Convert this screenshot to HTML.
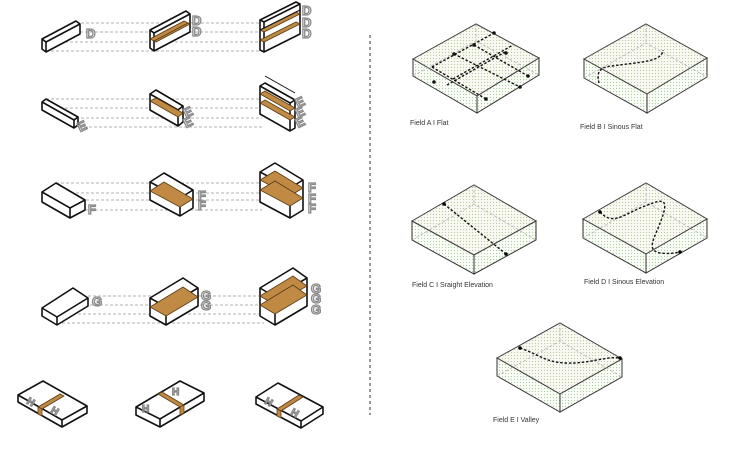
<!DOCTYPE html>
<html><head><meta charset="utf-8"><style>
html,body{margin:0;padding:0;background:#fff;}
svg{display:block}
.b{fill:#fff;stroke:#111;stroke-width:1.6;stroke-linejoin:round}
.e{stroke:#111;stroke-width:1.6;fill:none}
.h{stroke:#999;stroke-width:0.7;stroke-dasharray:3 2;fill:none}
.sh{fill:#c08a45;stroke:#5a3c15;stroke-width:0.8}
.fl{fill:url(#dots);stroke:#333;stroke-width:1}
.fd{stroke:#aaa;stroke-width:0.7;stroke-dasharray:3 2;fill:none}
.p{stroke:#111;stroke-width:1.4;stroke-dasharray:2.5 1.8;fill:none}
.lt{fill:none;stroke:#8a8a8a;stroke-width:1.3;font-family:"Liberation Sans",sans-serif;font-weight:bold;font-size:13px}
.lab{font-family:"Liberation Sans",sans-serif;font-size:7px;fill:#333}
.pk{fill:#f6d6d6;opacity:0.12}
</style></head><body>
<svg width="730" height="452" viewBox="0 0 730 452" xmlns="http://www.w3.org/2000/svg">
<defs>
<pattern id="dots" width="3" height="3" patternUnits="userSpaceOnUse">
<rect width="3" height="3" fill="#fbfdf8"/><circle cx="1.5" cy="1.5" r="0.6" fill="#a9cf9b"/>
</pattern>
</defs>

<line x1="370" y1="35" x2="370" y2="415" stroke="#333" stroke-width="1" stroke-dasharray="3 3"/>

<!-- ROW 1 -->
<g>
<line class="h" x1="76" y1="23" x2="296" y2="23"/><line class="h" x1="60" y1="32" x2="262" y2="32"/>
<line class="h" x1="50" y1="42" x2="262" y2="42"/><line class="h" x1="46" y1="51" x2="264" y2="51"/>
<polygon class="b" points="42,39 76,21 80,24 80,34 46,52 42,49"/><polyline class="e" points="42,39 46,42 80,24"/><line class="e" x1="46" y1="42" x2="46" y2="52"/>
<polygon class="b" points="150,30 186,11 190,14 190,32 154,51 150,48"/><polyline class="e" points="150,30 154,33 190,14"/><line class="e" x1="154" y1="33" x2="154" y2="51"/>
<polygon class="sh" points="154,41 188,23 190,24 156,42"/><polygon class="sh" points="150,39 184,21 188,23 154,41"/>
<polygon class="b" points="260,20 296,2 300,4 300,34 264,52 260,50"/><polyline class="e" points="260,20 264,22 300,4"/><line class="e" x1="264" y1="22" x2="264" y2="52"/>
<polygon class="sh" points="260,30 296,12 300,14 264,32"/><polygon class="sh" points="260,40 296,22 300,24 264,42"/>
<line class="e" x1="260" y1="30" x2="300" y2="10" style="stroke-width:1"/>
<text class="lt" x="86" y="38">D</text>
<text class="lt" x="192" y="25">D</text><text class="lt" x="192" y="36">D</text>
<text class="lt" x="302" y="15">D</text><text class="lt" x="302" y="27">D</text><text class="lt" x="302" y="38">D</text>
</g>

<!-- ROW 2 -->
<g>
<line class="h" x1="46" y1="99" x2="262" y2="99"/><line class="h" x1="60" y1="108" x2="262" y2="108"/>
<line class="h" x1="66" y1="118" x2="262" y2="118"/><line class="h" x1="74" y1="127" x2="264" y2="127"/>
<polygon class="b" points="42,102 46,99 78,117 78,125 74,128 42,110"/><polyline class="e" points="42,102 74,120 78,117"/><line class="e" x1="74" y1="120" x2="74" y2="128"/>
<polygon class="b" points="150,94 156,90 183,106 183,122 178,126 150,110"/><polyline class="e" points="150,94 178,110 183,106"/><line class="e" x1="178" y1="110" x2="178" y2="126"/>
<polygon class="sh" points="150,101 156,98 183,113 178,117"/>
<polygon class="b" points="260,86 265,83 295,100 295,128 290,131 260,114"/><polyline class="e" points="260,86 290,103 295,100"/><line class="e" x1="290" y1="103" x2="290" y2="131"/>
<line class="e" x1="265" y1="76" x2="295" y2="93" style="stroke-width:1"/>
<polygon class="sh" points="260,94 265,91 295,108 290,111"/><polygon class="sh" points="260,103 265,100 295,117 290,120"/>
<text class="lt" x="80" y="132" transform="rotate(-25 80 132)">E</text>
<text class="lt" x="186" y="118" transform="rotate(-25 186 118)">E</text><text class="lt" x="186" y="128" transform="rotate(-25 186 128)">E</text>
<text class="lt" x="298" y="108" transform="rotate(-25 298 108)">E</text><text class="lt" x="298" y="118" transform="rotate(-25 298 118)">E</text><text class="lt" x="298" y="128" transform="rotate(-25 298 128)">E</text>
</g>

<!-- ROW 3 -->
<g>
<line class="h" x1="56" y1="183" x2="275" y2="183"/><line class="h" x1="46" y1="193" x2="262" y2="193"/>
<line class="h" x1="76" y1="200" x2="262" y2="200"/><line class="h" x1="85" y1="210" x2="262" y2="210"/>
<polygon class="b" points="42,192 56,183 85,200 85,210 70,218 42,202"/><polyline class="e" points="42,192 70,208 85,200"/><line class="e" x1="70" y1="208" x2="70" y2="218"/>
<polygon class="b" points="150,182 164,173 193,190 193,208 180,216 150,200"/><polyline class="e" points="150,182 180,198 193,190"/><line class="e" x1="180" y1="198" x2="180" y2="216"/>
<polygon class="sh" points="150,191 164,182 193,199 180,207"/>
<polygon class="b" points="260,172 275,163 303,180 303,210 290,218 260,202"/><polyline class="e" points="260,172 290,188 303,180"/><line class="e" x1="290" y1="188" x2="290" y2="218"/>
<polygon class="sh" points="260,180 275,171 303,188 290,196"/><polygon class="sh" points="260,190 275,181 303,198 290,206"/>
<text class="lt" x="88" y="214">F</text>
<text class="lt" x="198" y="200">F</text><text class="lt" x="198" y="210">F</text>
<text class="lt" x="308" y="192">F</text><text class="lt" x="308" y="203">F</text><text class="lt" x="308" y="213">F</text>
</g>

<!-- ROW 4 -->
<g>
<line class="h" x1="88" y1="296" x2="262" y2="296"/><line class="h" x1="80" y1="305" x2="262" y2="305"/>
<line class="h" x1="58" y1="314" x2="262" y2="314"/><line class="h" x1="57" y1="323" x2="264" y2="323"/>
<polygon class="b" points="42,308 73,288 88,298 88,306 57,325 42,316"/><polyline class="e" points="42,308 57,317 88,298"/><line class="e" x1="57" y1="317" x2="57" y2="325"/>
<polygon class="b" points="150,298 183,278 198,288 198,306 166,325 150,316"/><polyline class="e" points="150,298 166,307 198,288"/><line class="e" x1="166" y1="307" x2="166" y2="325"/>
<polygon class="sh" points="150,307 183,287 198,297 166,316"/>
<polygon class="b" points="260,288 293,268 307,278 307,306 275,325 260,316"/><polyline class="e" points="260,288 275,297 307,278"/><line class="e" x1="275" y1="297" x2="275" y2="325"/>
<polygon class="sh" points="260,296 293,276 307,286 275,305"/><polygon class="sh" points="260,305 293,285 307,295 275,314"/>
<text class="lt" x="92" y="306">G</text>
<text class="lt" x="201" y="300">G</text><text class="lt" x="201" y="310">G</text>
<text class="lt" x="311" y="293">G</text><text class="lt" x="311" y="303">G</text><text class="lt" x="311" y="314">G</text>
</g>

<!-- ROW 5 trays -->
<g>
<polygon class="b" points="18,395 43,381 87,406 87,413 62,427 18,402"/><polyline class="e" points="18,395 62,420 87,406"/><line class="e" x1="62" y1="420" x2="62" y2="427"/>
<polygon class="sh" points="38,407 60,394 64,396 42,409"/><polygon class="sh" points="38,407 42,409 42,416 38,414"/>
<text class="lt" x="26" y="403" style="font-size:10px" transform="rotate(30 26 403)">H</text><text class="lt" x="50" y="412" style="font-size:10px" transform="rotate(30 50 412)">H</text>

<polygon class="b" points="136,407 180,381 204,393 204,401 160,427 136,415"/><polyline class="e" points="136,407 160,419 204,393"/><line class="e" x1="160" y1="419" x2="160" y2="427"/>
<polygon class="sh" points="158,394 162,392 184,405 180,407"/><polygon class="sh" points="180,407 184,405 184,413 180,415"/>
<text class="lt" x="142" y="412" style="font-size:10px">H</text><text class="lt" x="172" y="395" style="font-size:10px">H</text>

<polygon class="b" points="256,397 278,383 323,407 323,414 301,428 256,404"/><polyline class="e" points="256,397 301,421 323,407"/><line class="e" x1="301" y1="421" x2="301" y2="428"/>
<polygon class="sh" points="277,409 299,395 303,397 281,411"/><polygon class="sh" points="277,409 281,411 281,418 277,416"/>
<text class="lt" x="264" y="403" style="font-size:10px" transform="rotate(30 264 403)">H</text><text class="lt" x="290" y="414" style="font-size:10px" transform="rotate(30 290 414)">H</text>
</g>

<!-- A -->
<g>
<polygon class="fl" points="413,59 476,24 539,58 477,96"/>
<polygon class="fl" points="413,59 477,96 477,113 413,76"/>
<polygon class="fl" points="477,96 539,58 539,75 477,113"/>
<polygon class="pk" points="413,59 476,24 539,58 477,96"/>
<polyline class="fd" points="413,76 476,41 539,75"/><line class="fd" x1="476" y1="24" x2="476" y2="41"/>
<line class="p" x1="432" y1="67" x2="494" y2="33"/><line class="p" x1="453" y1="79" x2="513" y2="45"/>
<line class="p" x1="432" y1="67" x2="486" y2="99"/><line class="p" x1="454" y1="54" x2="520" y2="87"/>
<line class="p" x1="474" y1="45" x2="528" y2="76"/><line class="p" x1="447" y1="85" x2="505" y2="52"/>
<g fill="#111"><circle cx="454" cy="54" r="1.8"/><circle cx="474" cy="45" r="1.8"/><circle cx="494" cy="33" r="1.8"/><circle cx="506" cy="53" r="1.8"/><circle cx="520" cy="87" r="1.8"/><circle cx="528" cy="76" r="1.8"/><circle cx="486" cy="99" r="1.8"/><circle cx="434" cy="82" r="1.8"/></g>
<text class="lab" x="410" y="125">Field A I Flat</text>
</g>
<!-- B -->
<g>
<polygon class="fl" points="584,59 646,24 707,58 647,94"/>
<polygon class="fl" points="584,59 647,94 647,113 584,78"/>
<polygon class="fl" points="647,94 707,58 707,77 647,113"/>
<polygon class="pk" points="584,59 646,24 707,58 647,94"/>
<polyline class="fd" points="584,78 646,43 707,77"/><line class="fd" x1="646" y1="24" x2="646" y2="43"/>
<path class="p" d="M599,83 C596,72 600,67 612,66 C640,62 662,62 663,50"/>
<text class="lab" x="580" y="129">Field B I Sinous Flat</text>
</g>
<!-- C -->
<g>
<polygon class="fl" points="412,221 474,185 536,221 474,255"/>
<polygon class="fl" points="412,221 474,255 474,274 412,240"/>
<polygon class="fl" points="474,255 536,221 536,240 474,274"/>
<polygon class="pk" points="412,221 474,185 536,221 474,255"/>
<polyline class="fd" points="412,240 474,204 536,240"/><line class="fd" x1="474" y1="185" x2="474" y2="204"/>
<line class="p" x1="444" y1="204" x2="506" y2="254"/>
<circle cx="444" cy="204" r="1.8"/><circle cx="506" cy="254" r="1.8"/>
<text class="lab" x="412" y="287">Field C I Sraight Elevation</text>
</g>
<!-- D -->
<g>
<polygon class="fl" points="583,219 646,183 707,219 646,254"/>
<polygon class="fl" points="583,219 646,254 646,273 583,238"/>
<polygon class="fl" points="646,254 707,219 707,238 646,273"/>
<polygon class="pk" points="583,219 646,183 707,219 646,254"/>
<polyline class="fd" points="583,238 646,202 707,238"/><line class="fd" x1="646" y1="183" x2="646" y2="202"/>
<path class="p" d="M600,212 C612,225 622,216 640,208 C660,200 670,195 662,218 C655,238 645,250 660,253 C670,254 675,253 680,252"/>
<circle cx="600" cy="212" r="1.8"/><circle cx="680" cy="252" r="1.8"/>
<text class="lab" x="584" y="284">Field D I Sinous Elevation</text>
</g>
<!-- E -->
<g>
<polygon class="fl" points="497,358 560,323 622,359 560,394"/>
<polygon class="fl" points="497,358 560,394 560,412 497,376"/>
<polygon class="fl" points="560,394 622,359 622,377 560,412"/>
<polygon class="pk" points="497,358 560,323 622,359 560,394"/>
<polyline class="fd" points="497,376 560,341 622,377"/><line class="fd" x1="560" y1="323" x2="560" y2="341"/>
<path class="p" d="M520,348 C540,355 545,362 565,363 C590,364 605,356 620,358"/>
<circle cx="520" cy="348" r="1.8"/><circle cx="620" cy="358" r="1.8"/>
<text class="lab" x="493" y="422">Field E I Valley</text>
</g>
</svg>
</body></html>
